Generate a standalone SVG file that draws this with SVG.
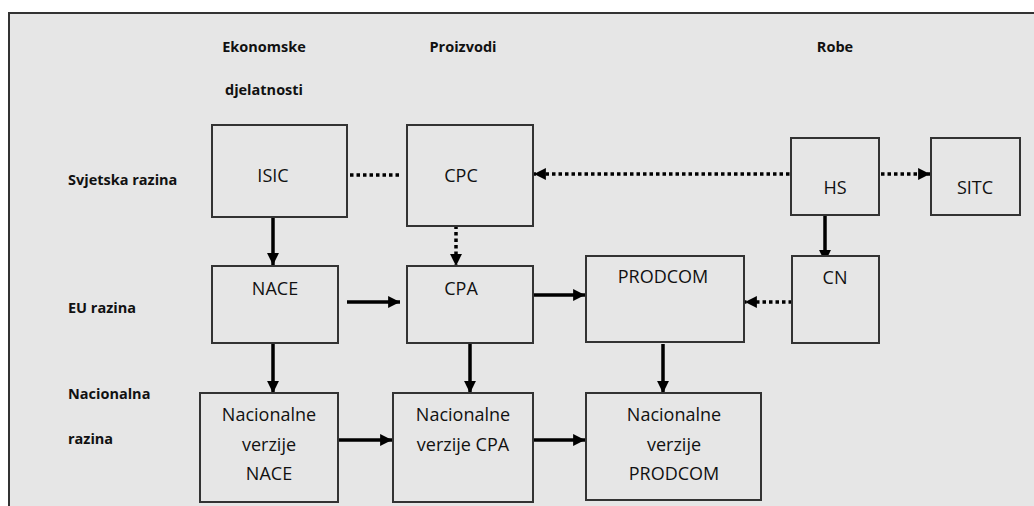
<svg xmlns="http://www.w3.org/2000/svg" width="1034" height="506" viewBox="0 0 1034 506">
<defs>
<style>
.box{fill:#e6e6e6;stroke:#333;stroke-width:2}
.hdr{font-family:"Open Sans","Liberation Sans",sans-serif;font-weight:bold;font-size:14.5px;fill:#111}
.lbl{font-family:"Open Sans","Liberation Sans",sans-serif;font-size:18px;fill:#111;text-anchor:middle}
.solid{stroke:#000;stroke-width:3.5;fill:none}
.dot{stroke:#000;stroke-width:3.5;fill:none;stroke-dasharray:3.5 3}
</style>
<marker id="ah" viewBox="0 0 10 10" refX="10" refY="5" markerWidth="3.4" markerHeight="3.4" markerUnits="strokeWidth" orient="auto">
<path d="M0,0 L10,5 L0,10 z" fill="#000"/>
</marker>
</defs>
<rect x="0" y="0" width="1034" height="506" fill="#fff"/>
<rect x="9" y="13" width="1040" height="510" fill="#e6e6e6" stroke="#333" stroke-width="2"/>
<g id="headers">
<text class="hdr" x="264" y="52" text-anchor="middle">Ekonomske</text>
<text class="hdr" x="264" y="95" text-anchor="middle">djelatnosti</text>
<text class="hdr" x="463" y="52" text-anchor="middle">Proizvodi</text>
<text class="hdr" x="835" y="52" text-anchor="middle">Robe</text>
<text class="hdr" x="68" y="185">Svjetska razina</text>
<text class="hdr" x="68" y="313">EU razina</text>
<text class="hdr" x="68" y="399">Nacionalna</text>
<text class="hdr" x="68" y="444">razina</text>
</g>
<g id="connectors">
<line class="solid" x1="273" y1="210" x2="273" y2="265" marker-end="url(#ah)"/>
<line class="dot" x1="350" y1="175" x2="400" y2="175"/>
<line class="dot" x1="796" y1="174" x2="534" y2="174" marker-end="url(#ah)"/>
<line class="dot" x1="881" y1="174" x2="930" y2="174" marker-end="url(#ah)"/>
<line class="solid" x1="825" y1="213" x2="825" y2="262" marker-end="url(#ah)"/>
<line class="dot" x1="456" y1="219" x2="456" y2="266" marker-end="url(#ah)"/>
<line class="solid" x1="347" y1="302" x2="400" y2="302" marker-end="url(#ah)"/>
<line class="solid" x1="534" y1="295" x2="585" y2="295" marker-end="url(#ah)"/>
<line class="dot" x1="792" y1="302" x2="745" y2="302" marker-end="url(#ah)"/>
<line class="solid" x1="273" y1="344" x2="273" y2="393" marker-end="url(#ah)"/>
<line class="solid" x1="470" y1="344" x2="470" y2="393" marker-end="url(#ah)"/>
<line class="solid" x1="663" y1="344" x2="663" y2="393" marker-end="url(#ah)"/>
<line class="solid" x1="339" y1="440" x2="392" y2="440" marker-end="url(#ah)"/>
<line class="solid" x1="534" y1="440" x2="585" y2="440" marker-end="url(#ah)"/>
</g>
<g id="isic"><rect class="box" x="212" y="125" width="135" height="92"/><text class="lbl" x="273" y="182">ISIC</text></g>
<g id="cpc"><rect class="box" x="407" y="125" width="126" height="101"/><text class="lbl" x="461" y="182">CPC</text></g>
<g id="hs"><rect class="box" x="791" y="138" width="88" height="77"/><text class="lbl" x="835" y="194">HS</text></g>
<g id="sitc"><rect class="box" x="931" y="138" width="89" height="77"/><text class="lbl" x="975" y="194">SITC</text></g>
<g id="nace"><rect class="box" x="212" y="266" width="126" height="77"/><text class="lbl" x="275" y="295">NACE</text></g>
<g id="cpa"><rect class="box" x="407" y="266" width="126" height="77"/><text class="lbl" x="461" y="295">CPA</text></g>
<g id="prodcom"><rect class="box" x="586" y="256" width="158" height="86"/><text class="lbl" x="663" y="283">PRODCOM</text></g>
<g id="cn"><rect class="box" x="792" y="256" width="87" height="87"/><text class="lbl" x="835" y="284">CN</text></g>
<g id="nat-nace"><rect class="box" x="200" y="393" width="138" height="109"/>
<text class="lbl" x="269" y="421">Nacionalne</text><text class="lbl" x="269" y="451">verzije</text><text class="lbl" x="269" y="480">NACE</text></g>
<g id="nat-cpa"><rect class="box" x="393" y="393" width="140" height="109"/>
<text class="lbl" x="463" y="421">Nacionalne</text><text class="lbl" x="463" y="451">verzije CPA</text></g>
<g id="nat-prodcom"><rect class="box" x="586" y="393" width="175" height="107"/>
<text class="lbl" x="674" y="421">Nacionalne</text><text class="lbl" x="674" y="451">verzije</text><text class="lbl" x="674" y="480">PRODCOM</text></g>
</svg>
